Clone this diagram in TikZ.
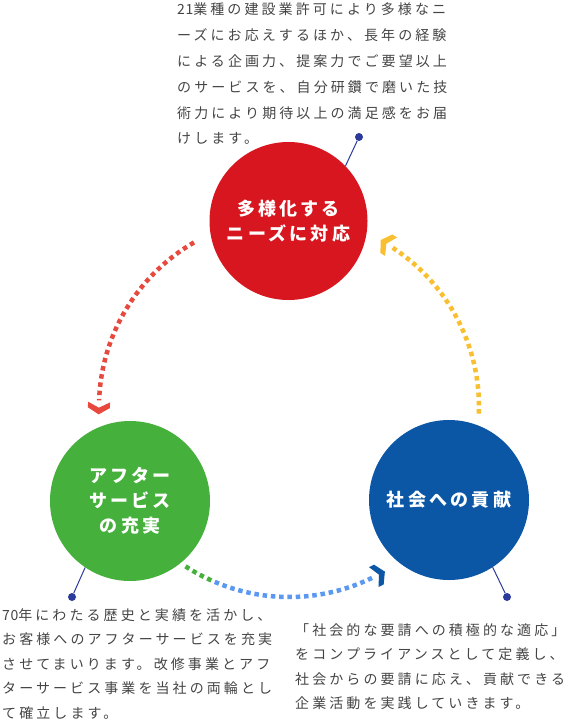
\documentclass[tikz,border=0pt]{standalone}
\usepackage{fontspec}
\setmainfont{Noto Sans CJK JP}
\newfontfamily\jptext[LetterSpace=22]{Noto Sans CJK JP}
\newfontfamily\jphead[LetterSpace=18]{Noto Sans CJK JP}
\newfontfamily\jpdigit[LetterSpace=4]{Noto Sans CJK JP}
\usetikzlibrary{decorations.markings}

\definecolor{needsred}{HTML}{D7161F}
\definecolor{aftergreen}{HTML}{45B03B}
\definecolor{socialblue}{HTML}{0B56A5}
\definecolor{arrowred}{HTML}{E8493F}
\definecolor{arrowyellow}{HTML}{F8BF30}
\definecolor{arrowlight}{HTML}{5B98EF}
\definecolor{pinblue}{HTML}{2B3A9B}
\definecolor{bodygray}{HTML}{444444}

\begin{document}
\begin{tikzpicture}[x=1pt, y=1pt,
    theme/.style={circle, minimum size=160pt, inner sep=0pt, align=center, text=white, font=\jphead\bfseries\fontsize{18}{25}\selectfont},
    desc/.style={anchor=north west, inner sep=0pt, align=left, text=bodygray, font=\jptext\fontsize{14}{#1}\selectfont},
    desc/.default=24.5,
    pin/.style={circle, fill=pinblue, minimum size=8pt, inner sep=0pt},
    pinline/.style={draw=pinblue, line width=1pt},
    dots/.style={line width=4.5pt, dash pattern=on 4.5pt off 3.8pt},
    chevron/.style={postaction={decorate}, decoration={markings, mark=at position 1 with {\fill[#1] (14,0) -- (7.3,11) -- (1.7,11) -- (7.3,0) -- (1.7,-11) -- (7.3,-11) -- cycle;}}}
]
\useasboundingbox (0,0) rectangle (566,-719);

% Círculos principales
\node (needs) [theme, fill=needsred, minimum size=158pt] at (288.5,-221) {多様化する\\ニーズに対応};
\node (after) [theme, fill=aftergreen] at (130,-501) {アフター\\サービス\\の充実};
\node (social) [theme, fill=socialblue] at (449,-500) {社会への貢献};

% Centro del ciclo
\coordinate (hub) at (289,-407);

% Flechas punteadas
\draw [dots, draw=arrowred, chevron=arrowred] ([shift={(120:190)}]hub) arc[start angle=120, end angle=178, radius=190];
\draw [dots, draw=aftergreen] ([shift={(237:190)}]hub) arc[start angle=237, end angle=247, radius=190];
\draw [dots, draw=arrowlight, chevron=socialblue] ([shift={(247:190)}]hub) arc[start angle=247, end angle=296, radius=190];
\draw [dots, draw=arrowyellow, chevron=arrowyellow] ([shift={(-2:190)}]hub) arc[start angle=-2, end angle=57, radius=190];

% Marcadores
\node (needspin) [pin] at (359,-137) {};
\node (afterpin) [pin] at (72,-597) {};
\node (socialpin) [pin] at (507,-597) {};
\draw [pinline] (needs.44) -- (needspin);
\draw [pinline] (after.236) -- (afterpin);
\draw [pinline] (social.303) -- (socialpin);

% Textos descriptivos
\node (needstext) [desc=25.8] at (177,-3) {{\jpdigit 21}業種の建設業許可により多様なニ\\ーズにお応えするほか、長年の経験\\による企画力、提案力でご要望以上\\のサービスを、自分研鑽で磨いた技\\術力により期待以上の満足感をお届\\けします。};
\node (aftertext) [desc] at (2,-608) {{\jpdigit 70}年にわたる歴史と実績を活かし、\\お客様へのアフターサービスを充実\\させてまいります。改修事業とアフ\\ターサービス事業を当社の両輪とし\\て確立します。};
\node (socialtext) [desc] at (295,-623) {「社会的な要請への積極的な適応」\\をコンプライアンスとして定義し、\\社会からの要請に応え、貢献できる\\企業活動を実践していきます。};

\end{tikzpicture}
\end{document}
